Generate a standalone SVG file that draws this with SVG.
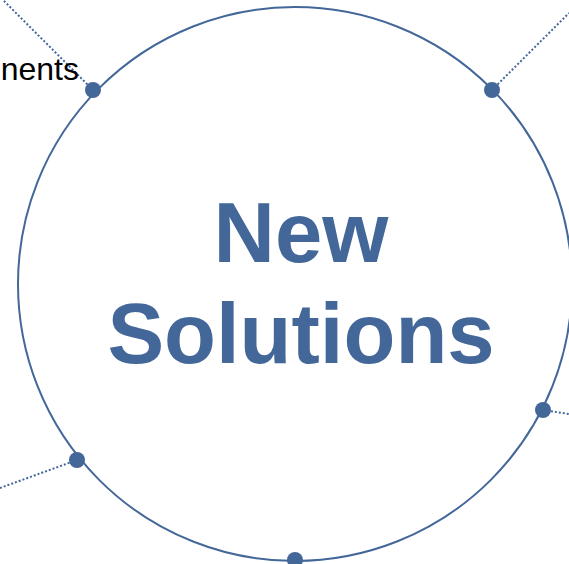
<svg xmlns="http://www.w3.org/2000/svg" width="569" height="564" viewBox="0 0 569 564">
<style>
.c{fill:none;stroke:#44679a;stroke-width:2}
.d{fill:#44679a}
.l{stroke:#44679a;stroke-width:2;stroke-dasharray:2 2;fill:none}
.t{font-family:"Liberation Sans",Arial,sans-serif;font-weight:bold;font-size:85px;fill:#44679a;text-anchor:middle}
.s{font-family:"Liberation Sans",Arial,sans-serif;font-size:32px;fill:#000;text-anchor:end}
</style>
<rect width="569" height="564" fill="#fff"/>
<g id="connectors">
<line class="l" x1="93" y1="90" x2="3" y2="0"/>
<line class="l" x1="492" y1="90" x2="569" y2="13"/>
<line class="l" x1="543" y1="410" x2="569" y2="414"/>
<line class="l" x1="77" y1="460" x2="0" y2="488"/>
</g>
<g id="label-nents"><text class="s" x="79" y="80">nents</text></g>
<g id="center">
<circle class="c" cx="295" cy="284" r="277"/>
<text class="t" x="301" y="262">New</text>
<text class="t" x="301" y="363">Solutions</text>
</g>
<g id="dot1"><circle class="d" cx="93" cy="90" r="8"/></g>
<g id="dot2"><circle class="d" cx="492" cy="90" r="8"/></g>
<g id="dot3"><circle class="d" cx="543" cy="410" r="8"/></g>
<g id="dot4"><circle class="d" cx="77" cy="460" r="8"/></g>
<g id="dot5"><circle class="d" cx="295" cy="560" r="8"/></g>
</svg>
